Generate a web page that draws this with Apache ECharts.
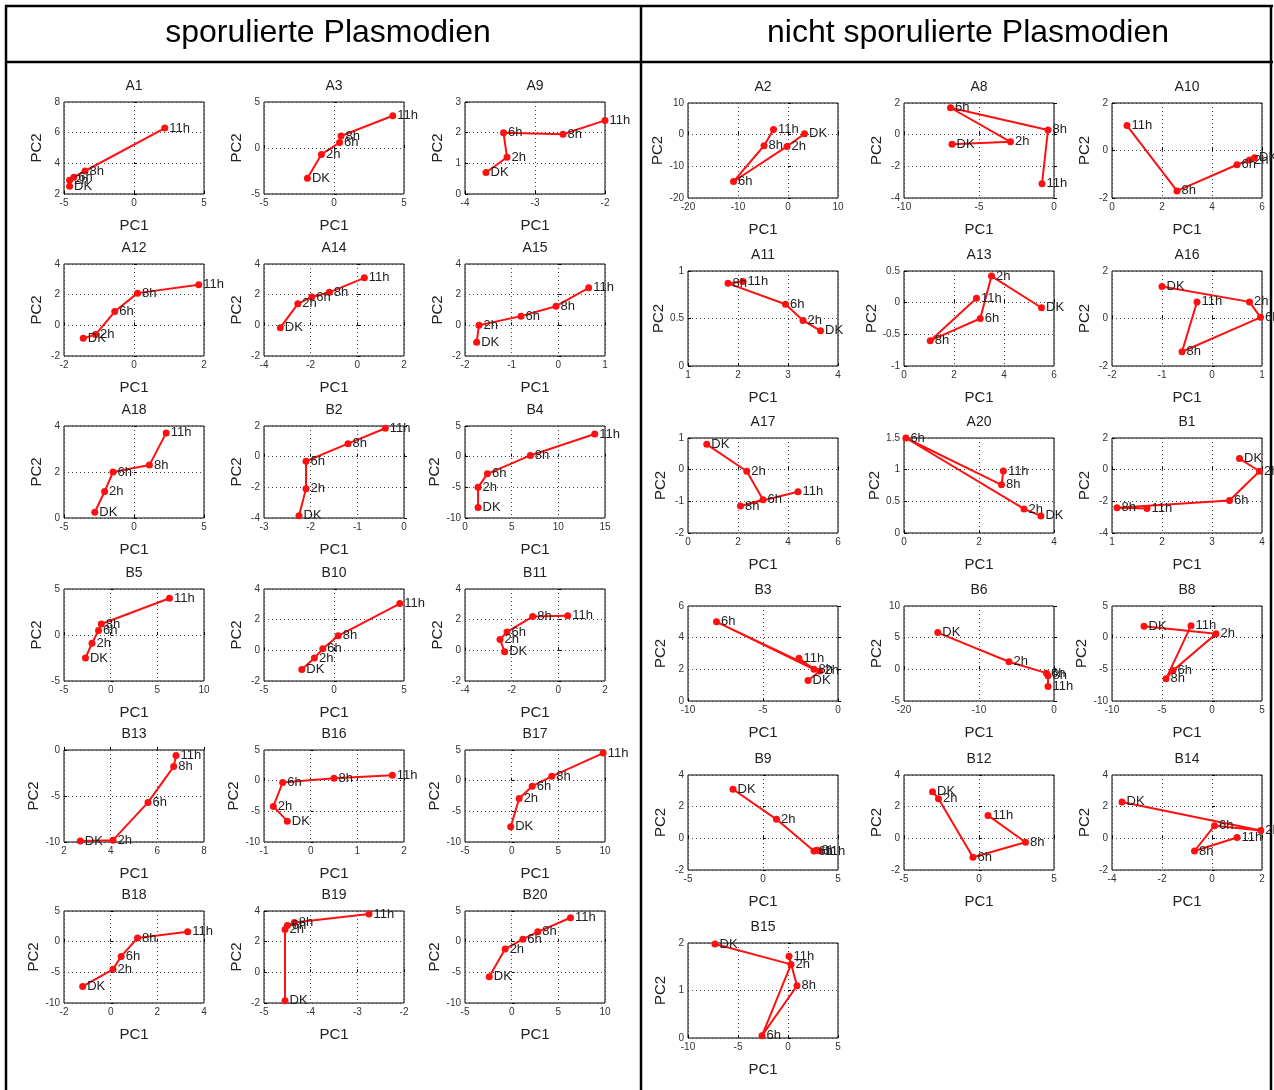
<!DOCTYPE html>
<html><head><meta charset="utf-8">
<script src="https://cdn.jsdelivr.net/npm/echarts/dist/echarts.min.js"></script>
<style>html,body{margin:0;padding:0;background:#fff}#c{width:1274px;height:1090px}</style>
</head><body><div id="c"></div>
<script>
// ---- data ----
const timeLabels = ['DK','2h','6h','8h','11h'];
const panelTitles = ['sporulierte Plasmodien','nicht sporulierte Plasmodien'];
const leftPlots  = ['A1','A3','A9','A12','A14','A15','A18','B2','B4','B5','B10','B11','B13','B16','B17','B18','B19','B20'];
const rightPlots = ['A2','A8','A10','A11','A13','A16','A17','A20','B1','B3','B6','B8','B9','B12','B14','B15'];

const A1_x=[-4.6,-4.6,-4.3,-3.5,2.2],  A1_y=[2.5,2.9,3.1,3.5,6.3],   A1_xt=[-5,0,5],   A1_yt=[2,4,6,8];
const A3_x=[-1.9,-0.9,0.4,0.5,4.2],    A3_y=[-3.3,-0.7,0.6,1.3,3.5], A3_xt=[-5,0,5],   A3_yt=[-5,0,5];
const A9_x=[-3.7,-3.4,-3.45,-2.6,-2.0],A9_y=[0.7,1.2,2.0,1.95,2.4],  A9_xt=[-4,-3,-2], A9_yt=[0,1,2,3];
const A12_x=[-1.45,-1.1,-0.55,0.1,1.85],A12_y=[-0.85,-0.6,0.9,2.1,2.65],A12_xt=[-2,0,2],A12_yt=[-2,0,2,4];
const A14_x=[-3.3,-2.55,-1.95,-1.2,0.3],A14_y=[-0.15,1.4,1.85,2.15,3.1],A14_xt=[-4,-2,0,2],A14_yt=[-2,0,2,4];
const A15_x=[-1.75,-1.7,-0.8,-0.05,0.65],A15_y=[-1.1,0.0,0.6,1.25,2.45],A15_xt=[-2,-1,0,1],A15_yt=[-2,0,2,4];
const A18_x=[-2.8,-2.1,-1.5,1.1,2.3],  A18_y=[0.25,1.15,2.0,2.3,3.7], A18_xt=[-5,0,5], A18_yt=[0,2,4];
const B2_x=[-2.25,-2.1,-2.1,-1.2,-0.4],B2_y=[-3.85,-2.1,-0.3,0.85,1.85],B2_xt=[-3,-2,-1,0],B2_yt=[-4,-2,0,2];
const B4_x=[1.4,1.4,2.4,7.0,13.9],     B4_y=[-8.3,-5.0,-2.8,0.2,3.7], B4_xt=[0,5,10,15], B4_yt=[-10,-5,0,5];
const B5_x=[-2.7,-2.0,-1.3,-1.0,6.3],  B5_y=[-2.5,-0.9,0.5,1.2,4.0],  B5_xt=[-5,0,5,10], B5_yt=[-5,0,5];
const B10_x=[-2.3,-1.4,-0.8,0.3,4.7],  B10_y=[-1.25,-0.5,0.1,0.95,3.05],B10_xt=[-5,0,5],B10_yt=[-2,0,2,4];
const B11_x=[-2.3,-2.5,-2.2,-1.1,0.4], B11_y=[-0.1,0.7,1.2,2.2,2.25], B11_xt=[-4,-2,0,2],B11_yt=[-2,0,2,4];
const B13_x=[2.7,4.1,5.6,6.7,6.8],     B13_y=[-9.9,-9.8,-5.7,-1.8,-0.6],B13_xt=[2,4,6,8],B13_yt=[-10,-5,0];
const B16_x=[-0.5,-0.8,-0.6,0.5,1.75], B16_y=[-6.6,-4.2,-0.3,0.4,0.9], B16_xt=[-1,0,1,2],B16_yt=[-10,-5,0,5];
const B17_x=[-0.1,0.8,2.2,4.3,9.8],    B17_y=[-7.5,-2.9,-0.9,0.7,4.5], B17_xt=[-5,0,5,10],B17_yt=[-10,-5,0,5];
const B18_x=[-1.2,0.1,0.45,1.15,3.3],  B18_y=[-7.3,-4.5,-2.4,0.6,1.6], B18_xt=[-2,0,2,4],B18_yt=[-10,-5,0,5];
const B19_x=[-4.55,-4.55,-4.5,-4.35,-2.75],B19_y=[-1.85,2.8,3.05,3.25,3.8],B19_xt=[-5,-4,-3,-2],B19_yt=[-2,0,2,4];
const B20_x=[-2.4,-0.7,1.2,2.8,6.3],   B20_y=[-5.7,-1.2,0.4,1.6,3.9], B20_xt=[-5,0,5,10],B20_yt=[-10,-5,0,5];

const A2_x=[3.3,-0.2,-10.9,-4.8,-2.9], A2_y=[0.3,-3.7,-14.8,-3.5,1.6], A2_xt=[-20,-10,0,10],A2_yt=[-20,-10,0,10];
const A8_x=[-6.8,-2.9,-6.9,-0.4,-0.8], A8_y=[-0.6,-0.45,1.7,0.3,-3.1], A8_xt=[-10,-5,0],A8_yt=[-4,-2,0,2];
const A10_x=[5.7,5.5,5.0,2.6,0.6],     A10_y=[-0.3,-0.4,-0.6,-1.7,1.05],A10_xt=[0,2,4,6],A10_yt=[-2,0,2];
const A11_x=[3.65,3.3,2.95,1.8,2.1],   A11_y=[0.37,0.48,0.65,0.87,0.89],A11_xt=[1,2,3,4],A11_yt=[0,0.5,1];
const A13_x=[5.5,3.5,3.05,1.05,2.9],   A13_y=[-0.08,0.42,-0.25,-0.6,0.07],A13_xt=[0,2,4,6],A13_yt=[-1,-0.5,0,0.5];
const A16_x=[-1.0,0.75,0.97,-0.6,-0.3],A16_y=[1.35,0.7,0.05,-1.4,0.7], A16_xt=[-2,-1,0,1],A16_yt=[-2,0,2];
const A17_x=[0.75,2.35,3.0,2.1,4.4],   A17_y=[0.8,-0.05,-0.95,-1.15,-0.7],A17_xt=[0,2,4,6],A17_yt=[-2,-1,0,1];
const A20_x=[3.65,3.2,0.05,2.6,2.65],  A20_y=[0.27,0.38,1.5,0.76,0.98],A20_xt=[0,2,4],A20_yt=[0,0.5,1,1.5];
const B1_x=[3.55,3.95,3.35,1.1,1.7],   B1_y=[0.7,-0.1,-1.95,-2.4,-2.45],B1_xt=[1,2,3,4],B1_yt=[-4,-2,0,2];
const B3_x=[-2.0,-1.2,-8.1,-1.6,-2.6], B3_y=[1.3,1.9,5.0,2.0,2.7],    B3_xt=[-10,-5,0],B3_yt=[0,2,4,6];
const B6_x=[-15.5,-6.0,-1.0,-0.8,-0.8],B6_y=[5.8,1.2,-0.6,-1.0,-2.7], B6_xt=[-20,-10,0],B6_yt=[-5,0,5,10];
const B8_x=[-6.8,0.4,-3.9,-4.6,-2.1],  B8_y=[1.8,0.6,-5.2,-6.5,1.9],  B8_xt=[-10,-5,0,5],B8_yt=[-10,-5,0,5];
const B9_x=[-2.0,0.9,3.4,3.6,3.8],     B9_y=[3.1,1.2,-0.8,-0.75,-0.8],B9_xt=[-5,0,5],B9_yt=[-2,0,2,4];
const B12_x=[-3.1,-2.7,-0.4,3.1,0.6],  B12_y=[2.95,2.5,-1.2,-0.25,1.45],B12_xt=[-5,0,5],B12_yt=[-2,0,2,4];
const B14_x=[-3.6,1.95,0.1,-0.7,1.0],  B14_y=[2.3,0.5,0.8,-0.8,0.05], B14_xt=[-4,-2,0,2],B14_yt=[-2,0,2,4];
const B15_x=[-7.3,0.3,-2.6,0.9,0.1],   B15_y=[1.98,1.55,0.05,1.1,1.72],B15_xt=[-10,-5,0,5],B15_yt=[0,1,2];

const DATA = {
  A1:[A1_x,A1_y,A1_xt,A1_yt],A3:[A3_x,A3_y,A3_xt,A3_yt],A9:[A9_x,A9_y,A9_xt,A9_yt],
  A12:[A12_x,A12_y,A12_xt,A12_yt],A14:[A14_x,A14_y,A14_xt,A14_yt],A15:[A15_x,A15_y,A15_xt,A15_yt],
  A18:[A18_x,A18_y,A18_xt,A18_yt],B2:[B2_x,B2_y,B2_xt,B2_yt],B4:[B4_x,B4_y,B4_xt,B4_yt],
  B5:[B5_x,B5_y,B5_xt,B5_yt],B10:[B10_x,B10_y,B10_xt,B10_yt],B11:[B11_x,B11_y,B11_xt,B11_yt],
  B13:[B13_x,B13_y,B13_xt,B13_yt],B16:[B16_x,B16_y,B16_xt,B16_yt],B17:[B17_x,B17_y,B17_xt,B17_yt],
  B18:[B18_x,B18_y,B18_xt,B18_yt],B19:[B19_x,B19_y,B19_xt,B19_yt],B20:[B20_x,B20_y,B20_xt,B20_yt],
  A2:[A2_x,A2_y,A2_xt,A2_yt],A8:[A8_x,A8_y,A8_xt,A8_yt],A10:[A10_x,A10_y,A10_xt,A10_yt],
  A11:[A11_x,A11_y,A11_xt,A11_yt],A13:[A13_x,A13_y,A13_xt,A13_yt],A16:[A16_x,A16_y,A16_xt,A16_yt],
  A17:[A17_x,A17_y,A17_xt,A17_yt],A20:[A20_x,A20_y,A20_xt,A20_yt],B1:[B1_x,B1_y,B1_xt,B1_yt],
  B3:[B3_x,B3_y,B3_xt,B3_yt],B6:[B6_x,B6_y,B6_xt,B6_yt],B8:[B8_x,B8_y,B8_xt,B8_yt],
  B9:[B9_x,B9_y,B9_xt,B9_yt],B12:[B12_x,B12_y,B12_xt,B12_yt],B14:[B14_x,B14_y,B14_xt,B14_yt],
  B15:[B15_x,B15_y,B15_xt,B15_yt]
};

// ---- layout ----
const FONT = 'Liberation Sans, Arial, sans-serif';
const L = {cols:[64,264,465], w:140, rows:[102,264,426,589,750,911], h:92};
const R = {cols:[688,904,1112], w:150, rows:[103,271,438,606,775,943], h:95};

const grids=[], xAxes=[], yAxes=[], series=[], graphics=[];
function addPlot(name, left, top, w, h){
  const i = grids.length;
  const [xs, ys, xt, yt] = DATA[name];
  grids.push({left:left, top:top, width:w, height:h, show:true, borderColor:'#000', borderWidth:1, backgroundColor:'#fff'});
  const common = {
    axisLine:{show:false},
    axisTick:{show:true, inside:true, length:3, lineStyle:{color:'#000'}},
    splitLine:{show:true, lineStyle:{type:[1,3], color:'#444', width:1}},
    axisLabel:{fontSize:10, color:'#333', fontFamily:FONT, margin:4},
    nameTextStyle:{fontSize:15, color:'#222', fontFamily:FONT},
    nameLocation:'middle'
  };
  xAxes.push(Object.assign({type:'value', gridIndex:i, min:xt[0], max:xt[xt.length-1], interval:xt[1]-xt[0],
    name:'PC1', nameGap:24}, common));
  yAxes.push(Object.assign({type:'value', gridIndex:i, min:yt[0], max:yt[yt.length-1], interval:yt[1]-yt[0],
    name:'PC2', nameGap:20, nameRotate:90}, common));
  series.push({
    type:'line', xAxisIndex:i, yAxisIndex:i, clip:false,
    data: xs.map((x,k)=>({value:[x, ys[k]], name:timeLabels[k]})),
    symbol:'circle', symbolSize:7,
    lineStyle:{color:'#ff1010', width:2}, itemStyle:{color:'#ff1010'},
    label:{show:true, position:'right', distance:1, formatter:'{b}', fontSize:13, color:'#222', fontFamily:FONT},
    animation:false
  });
  graphics.push({type:'text', x:left + w/2, y:top - 23,
    style:{text:name, fontSize:14, fontFamily:FONT, fill:'#222', textAlign:'center'}});
}
leftPlots.forEach((n,k)=> addPlot(n, L.cols[k%3], L.rows[Math.floor(k/3)], L.w, L.h));
rightPlots.forEach((n,k)=> addPlot(n, R.cols[k%3], R.rows[Math.floor(k/3)], R.w, R.h));

// table frame
const lineStyle = {stroke:'#000', lineWidth:2.5};
graphics.push({type:'line', shape:{x1:5,y1:6,x2:1273,y2:6}, style:lineStyle});
graphics.push({type:'line', shape:{x1:5,y1:62,x2:1273,y2:62}, style:lineStyle});
graphics.push({type:'line', shape:{x1:6,y1:5,x2:6,y2:1090}, style:lineStyle});
graphics.push({type:'line', shape:{x1:641,y1:5,x2:641,y2:1090}, style:lineStyle});
graphics.push({type:'line', shape:{x1:1271,y1:5,x2:1271,y2:1090}, style:lineStyle});
graphics.push({type:'text', x:328, y:17, style:{text:panelTitles[0], fontSize:32, fontFamily:FONT, fill:'#000', textAlign:'center'}});
graphics.push({type:'text', x:968, y:17, style:{text:panelTitles[1], fontSize:32, fontFamily:FONT, fill:'#000', textAlign:'center'}});

const chart = echarts.init(document.getElementById('c'), null, {renderer:'canvas'});
chart.setOption({
  animation:false,
  backgroundColor:'#fff',
  textStyle:{fontFamily:FONT},
  grid:grids, xAxis:xAxes, yAxis:yAxes, series:series, graphic:graphics
});
</script></body></html>
